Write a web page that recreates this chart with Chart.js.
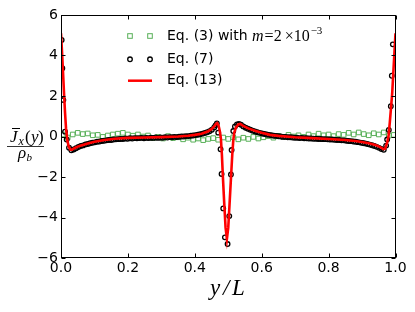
<!DOCTYPE html>
<html><head><meta charset="utf-8">
<script src="https://cdn.jsdelivr.net/npm/chart.js@4.4.1/dist/chart.umd.min.js"></script>
<style>html,body{margin:0;padding:0;background:#fff;}canvas{display:block;}</style>
</head><body>
<canvas id="c" width="415" height="312"></canvas>
<script>
// ---- data ----
const xTicks = [0, 0.2, 0.4, 0.6, 0.8, 1.0];
const xTickLabels = ['0.0', '0.2', '0.4', '0.6', '0.8', '1.0'];
const yTicks = [-6, -4, -2, 0, 2, 4, 6];
const yTickLabels = ['\u22126', '\u22124', '\u22122', '0', '2', '4', '6'];

const seriesNames = ['Eq. (3) with ', 'Eq. (7)', 'Eq. (13)'];

// Eq. (13) – red line
const eq13X = [0, 0.003, 0.006, 0.009, 0.012, 0.015, 0.019, 0.023, 0.028, 0.033, 0.04, 0.05, 0.06, 0.08, 0.1, 0.13, 0.16, 0.2, 0.25, 0.3, 0.35, 0.38, 0.4, 0.42, 0.44, 0.45, 0.458, 0.463, 0.467, 0.471, 0.475, 0.478, 0.481, 0.484, 0.488, 0.492, 0.496, 0.5, 0.504, 0.508, 0.512, 0.515, 0.518, 0.523, 0.53, 0.536, 0.545, 0.56, 0.58, 0.6, 0.625, 0.65, 0.7, 0.75, 0.8, 0.85, 0.88, 0.9, 0.92, 0.94, 0.95, 0.958, 0.964, 0.969, 0.975, 0.979, 0.983, 0.987, 0.99, 0.994, 0.997, 1.0];
const eq13Y = [5.1, 4.2, 3.2, 2.15, 1.2, 0.4, -0.2, -0.5, -0.65, -0.65, -0.58, -0.5, -0.44, -0.34, -0.26, -0.17, -0.11, -0.07, -0.05, -0.03, 0.0, 0.04, 0.08, 0.14, 0.26, 0.36, 0.5, 0.62, 0.66, 0.55, 0.25, -0.1, -0.9, -2.0, -3.3, -4.5, -5.05, -4.5, -3.3, -2.1, -0.9, -0.2, 0.2, 0.45, 0.6, 0.62, 0.52, 0.4, 0.28, 0.18, 0.08, 0.03, -0.04, -0.08, -0.12, -0.17, -0.22, -0.27, -0.33, -0.42, -0.49, -0.56, -0.62, -0.6, -0.3, 0.0, 0.7, 1.5, 2.1, 3.3, 4.2, 5.1];

// Eq. (7) – black circles
const eq7X = [0.002, 0.004, 0.007, 0.012,
  0.017, 0.024, 0.031, 0.038, 0.045, 0.052, 0.059, 0.066, 0.073, 0.080, 0.087, 0.094, 0.101, 0.108, 0.115, 0.122, 0.129, 0.136, 0.143, 0.150, 0.157, 0.164, 0.171, 0.178, 0.185, 0.192, 0.199, 0.206, 0.213, 0.220, 0.227, 0.234, 0.241, 0.248, 0.255, 0.262, 0.269, 0.276, 0.283, 0.290, 0.297, 0.304, 0.311, 0.318, 0.325, 0.332, 0.339, 0.346, 0.353, 0.360, 0.367, 0.374, 0.381, 0.388, 0.395, 0.402, 0.409, 0.416, 0.423, 0.430, 0.437, 0.444, 0.451, 0.458,
  0.462, 0.466, 0.470, 0.477, 0.480, 0.485, 0.490, 0.498, 0.503, 0.508, 0.510, 0.515, 0.520, 0.526, 0.532, 0.538,
  0.545, 0.552, 0.559, 0.566, 0.573, 0.580, 0.587, 0.594, 0.601, 0.608, 0.615, 0.622, 0.629, 0.636, 0.643, 0.650, 0.657, 0.664, 0.671, 0.678, 0.685, 0.692, 0.699, 0.706, 0.713, 0.720, 0.727, 0.734, 0.741, 0.748, 0.755, 0.762, 0.769, 0.776, 0.783, 0.790, 0.797, 0.804, 0.811, 0.818, 0.825, 0.832, 0.839, 0.846, 0.853, 0.860, 0.867, 0.874, 0.881, 0.888, 0.895, 0.902, 0.909, 0.916, 0.923, 0.930, 0.937, 0.944, 0.951, 0.958, 0.965, 0.972,
  0.975, 0.980, 0.986, 0.989, 0.992];
const eq7Y = [4.77, 3.37, 1.8, 0.24,
  -0.15, -0.55, -0.68, -0.64, -0.58, -0.52, -0.47, -0.44, -0.39, -0.37, -0.33, -0.31, -0.29, -0.26, -0.25, -0.22, -0.21, -0.19, -0.17, -0.17, -0.15, -0.14, -0.13, -0.12, -0.12, -0.10, -0.11, -0.09, -0.10, -0.08, -0.09, -0.08, -0.07, -0.09, -0.07, -0.08, -0.06, -0.07, -0.05, -0.07, -0.05, -0.06, -0.04, -0.05, -0.03, -0.04, -0.02, -0.03, -0.01, 0.00, 0.00, 0.02, 0.02, 0.04, 0.05, 0.07, 0.09, 0.11, 0.14, 0.17, 0.21, 0.26, 0.33, 0.45,
  0.55, 0.65, 0.19, -0.63, -1.85, -3.55, -4.98, -5.31, -3.93, -1.88, -0.67, 0.27, 0.50, 0.60, 0.62, 0.58,
  0.50, 0.43, 0.38, 0.33, 0.29, 0.25, 0.21, 0.18, 0.15, 0.12, 0.10, 0.08, 0.06, 0.04, 0.03, 0.01, 0.00, -0.02, -0.02, -0.04, -0.04, -0.05, -0.06, -0.06, -0.08, -0.07, -0.09, -0.09, -0.10, -0.10, -0.11, -0.11, -0.12, -0.12, -0.13, -0.13, -0.14, -0.15, -0.15, -0.16, -0.17, -0.17, -0.19, -0.19, -0.21, -0.22, -0.23, -0.25, -0.26, -0.28, -0.30, -0.32, -0.34, -0.37, -0.40, -0.43, -0.47, -0.51, -0.56, -0.62, -0.66, -0.45,
  -0.15, 0.32, 1.5, 3.0, 4.55];

// Eq. (3) – green squares
const eq3X = [0.005, 0.020, 0.035, 0.050, 0.065, 0.080, 0.095, 0.110, 0.125, 0.140, 0.155, 0.170, 0.185, 0.200, 0.215, 0.230, 0.245, 0.260, 0.275, 0.290, 0.305, 0.320, 0.335, 0.350, 0.365, 0.380, 0.395, 0.410, 0.425, 0.440, 0.455, 0.470, 0.485, 0.500, 0.515, 0.530, 0.545, 0.560, 0.575, 0.590, 0.605, 0.620, 0.635, 0.650, 0.665, 0.680, 0.695, 0.710, 0.725, 0.740, 0.755, 0.770, 0.785, 0.800, 0.815, 0.830, 0.845, 0.860, 0.875, 0.890, 0.905, 0.920, 0.935, 0.950, 0.965, 0.980, 0.995];
const eq3Y = [0.10, -0.05, 0.10, 0.18, 0.12, 0.15, 0.06, 0.08, -0.02, 0.05, 0.10, 0.14, 0.18, 0.10, 0.04, 0.10, 0.00, 0.05, -0.08, -0.02, -0.10, 0.02, -0.08, -0.04, -0.14, -0.06, -0.16, -0.10, -0.18, -0.12, -0.08, -0.16, -0.05, -0.12, -0.04, -0.14, -0.06, -0.12, -0.02, -0.10, -0.04, 0.02, -0.06, 0.03, -0.02, 0.08, 0.00, 0.06, -0.02, 0.10, 0.02, 0.14, 0.06, 0.10, 0.02, 0.12, 0.08, 0.18, 0.10, 0.20, 0.12, 0.06, 0.16, 0.10, 0.20, 0.04, 0.08];

// ---- styles ----
const GREEN = 'rgb(88,176,88)';
const SANS = '"DejaVu Sans", sans-serif';
const SERIF = '"Liberation Serif", "DejaVu Serif", serif';

function pts(xs, ys) { return xs.map((x, i) => ({ x: x, y: ys[i] })); }

function drawSquare(ctx, x, y) {
  ctx.save(); ctx.strokeStyle = GREEN; ctx.lineWidth = 1;
  ctx.strokeRect(x - 2.3, y - 2.3, 4.6, 4.6); ctx.restore();
}
function drawCircle(ctx, x, y) {
  ctx.save(); ctx.strokeStyle = '#000'; ctx.lineWidth = 1.3;
  ctx.beginPath(); ctx.arc(x, y, 2.3, 0, Math.PI * 2); ctx.stroke(); ctx.restore();
}

const deco = {
  id: 'deco',
  afterDraw(chart) {
    const ctx = chart.ctx, a = chart.chartArea, xs = chart.scales.x, ys = chart.scales.y;
    ctx.save();
    // frame + inward ticks
    ctx.strokeStyle = '#000'; ctx.lineWidth = 1;
    const L = Math.round(a.left) + 0.5, R = Math.round(a.right) - 0.5, T = Math.round(a.top) + 0.5, B = Math.round(a.bottom) - 0.5;
    ctx.strokeRect(L, T, R - L, B - T);
    ctx.beginPath();
    xTicks.forEach(v => { const p = Math.round(xs.getPixelForValue(v)) + 0.5; ctx.moveTo(p, B); ctx.lineTo(p, B - 4); ctx.moveTo(p, T); ctx.lineTo(p, T + 4); });
    yTicks.forEach(v => { const p = Math.round(ys.getPixelForValue(v)) + 0.5; ctx.moveTo(L, p); ctx.lineTo(L + 4, p); ctx.moveTo(R, p); ctx.lineTo(R - 4, p); });
    ctx.stroke();

    // legend
    ctx.fillStyle = '#000'; ctx.textBaseline = 'middle'; ctx.textAlign = 'left';
    drawSquare(ctx, 130, 36); drawSquare(ctx, 150, 36);
    let x = 167;
    ctx.font = '14px ' + SANS; ctx.fillText(seriesNames[0], x, 36); x += ctx.measureText(seriesNames[0]).width;
    ctx.font = 'italic 16px ' + SERIF; ctx.fillText('m', x, 37); x += ctx.measureText('m').width + 1;
    ctx.font = '16px ' + SERIF; ctx.fillText('=2', x, 37); x += ctx.measureText('=2').width + 3;
    ctx.fillText('\u00d710', x, 37); x += ctx.measureText('\u00d710').width + 1;
    ctx.font = '11px ' + SERIF; ctx.fillText('\u22123', x, 31);

    drawCircle(ctx, 130, 59.3); drawCircle(ctx, 150, 59.3);
    ctx.font = '14px ' + SANS; ctx.fillText(seriesNames[1], 167, 59.3);
    ctx.save(); ctx.strokeStyle = 'red'; ctx.lineWidth = 2.5; ctx.beginPath(); ctx.moveTo(128, 80.7); ctx.lineTo(152, 80.7); ctx.stroke(); ctx.restore();
    ctx.fillText(seriesNames[2], 167, 80.7);

    // x axis label
    ctx.textBaseline = 'alphabetic'; ctx.textAlign = 'left';
    ctx.font = 'italic 23px ' + SERIF;
    ctx.fillText('y', 210, 295); ctx.fillText('/', 223, 295); ctx.fillText('L', 232, 295);

    // y axis label: fraction J̄_x(y) / ρ_b
    ctx.font = 'italic 17px ' + SERIF;
    ctx.fillText('J', 10, 142);
    ctx.beginPath(); ctx.moveTo(12, 128.5); ctx.lineTo(20, 128.5); ctx.lineWidth = 1; ctx.stroke();
    ctx.font = 'italic 12px ' + SERIF; ctx.fillText('x', 18.5, 145);
    ctx.font = '17px ' + SERIF; ctx.fillText('(', 25, 142);
    ctx.font = 'italic 17px ' + SERIF; ctx.fillText('y', 31, 142);
    ctx.font = '17px ' + SERIF; ctx.fillText(')', 38, 142);
    ctx.beginPath(); ctx.moveTo(7, 146.5); ctx.lineTo(44, 146.5); ctx.lineWidth = 0.8; ctx.stroke();
    ctx.font = 'italic 17px ' + SERIF; ctx.fillText('\u03c1', 18, 158);
    ctx.font = 'italic 11px ' + SERIF; ctx.fillText('b', 26.5, 161);
    ctx.restore();
  }
};

new Chart(document.getElementById('c'), {
  type: 'scatter',
  data: {
    datasets: [
      { label: 'Eq. (13)', data: pts(eq13X, eq13Y), showLine: true, borderColor: 'red', borderWidth: 2.6, pointRadius: 0, tension: 0, order: 1 },
      { label: 'Eq. (7)', data: pts(eq7X, eq7Y), showLine: false, pointStyle: 'circle', pointRadius: 2.3, borderColor: '#000', backgroundColor: 'rgba(0,0,0,0)', pointBorderWidth: 1.3, order: 2 },
      { label: 'Eq. (3)', data: pts(eq3X, eq3Y), showLine: false, pointStyle: 'rect', pointRadius: 3.25, borderColor: GREEN, backgroundColor: 'rgba(0,0,0,0)', pointBorderWidth: 1, order: 3 }
    ]
  },
  options: {
    responsive: false, animation: false, devicePixelRatio: 1,
    layout: { padding: { left: 0, right: 19.5, top: 15, bottom: 0 } },
    plugins: { legend: { display: false }, tooltip: { enabled: false } },
    scales: {
      x: {
        type: 'linear', min: 0, max: 1,
        grid: { display: false, drawTicks: false }, border: { display: false },
        afterBuildTicks: s => { s.ticks = xTicks.map(v => ({ value: v })); },
        afterFit: s => { s.height = 54; },
        ticks: { color: '#000', font: { family: SANS, size: 14 }, padding: 2, maxRotation: 0, autoSkip: false, callback: (v, i) => xTickLabels[i] }
      },
      y: {
        type: 'linear', min: -6, max: 6,
        grid: { display: false, drawTicks: false }, border: { display: false },
        afterBuildTicks: s => { s.ticks = yTicks.map(v => ({ value: v })); },
        afterFit: s => { s.width = 61; },
        ticks: { color: '#000', font: { family: SANS, size: 14 }, padding: 3, autoSkip: false, callback: (v, i) => yTickLabels[i] }
      }
    }
  },
  plugins: [deco]
});
</script>
</body></html>
